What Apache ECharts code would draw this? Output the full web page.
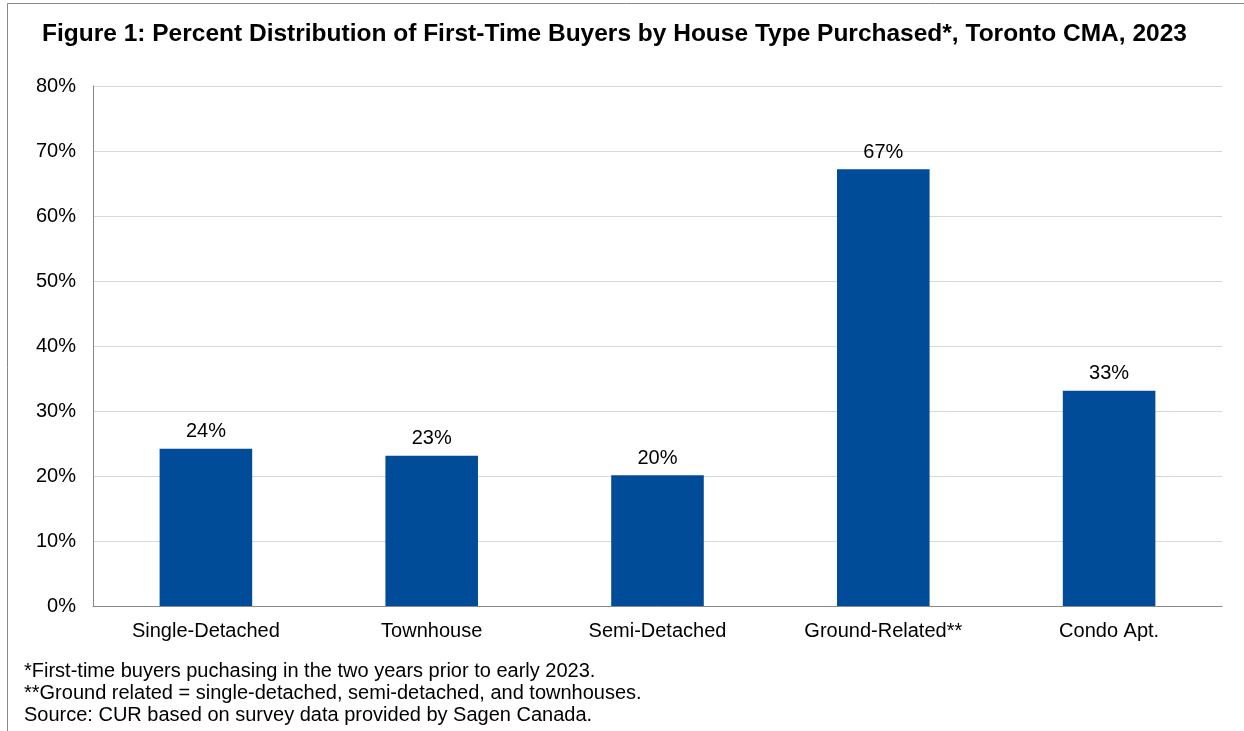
<!DOCTYPE html>
<html>
<head>
<meta charset="utf-8">
<script src="https://cdn.jsdelivr.net/npm/echarts@6/dist/echarts.min.js"></script>
<style>html,body{margin:0;padding:0;background:#fff;}#c{width:1244px;height:731px;}</style>
</head>
<body>
<div id="c"></div>
<script>
const categories = ['Single-Detached', 'Townhouse', 'Semi-Detached', 'Ground-Related**', 'Condo Apt.'];
const values = [24.2, 23.1, 20.1, 67.2, 33.1];
const titleText = 'Figure 1: Percent Distribution of First-Time Buyers by House Type Purchased*, Toronto CMA, 2023';
const notes = [
  '*First-time buyers puchasing in the two years prior to early 2023.',
  '**Ground related = single-detached, semi-detached, and townhouses.',
  'Source: CUR based on survey data provided by Sagen Canada.'
];
const yMin = 0, yMax = 80, yStep = 10;

const FONT = '"Liberation Sans", Arial, sans-serif';
const chart = echarts.init(document.getElementById('c'), null, {renderer: 'canvas'});
chart.setOption({
  animation: false,
  backgroundColor: '#ffffff',
  textStyle: {fontFamily: FONT},
  title: [{
    text: titleText,
    left: 37,
    top: 17,
    textStyle: {fontSize: 24.5, fontWeight: 'bold', color: '#000', fontFamily: FONT}
  }, {
    text: notes.join('\n'),
    left: 19,
    top: 655,
    textStyle: {fontSize: 20, fontWeight: 'normal', color: '#000', lineHeight: 22, fontFamily: FONT}
  }],
  graphic: [{
    type: 'rect',
    shape: {x: 7.5, y: 3.5, width: 1400, height: 900},
    style: {fill: 'none', stroke: '#888', lineWidth: 1},
    silent: true,
    z: -1
  }],
  grid: {left: 93, right: 22, top: 86, bottom: 125, containLabel: false},
  xAxis: {
    type: 'category',
    data: categories,
    axisLine: {lineStyle: {color: '#898989', width: 1}},
    axisTick: {show: false},
    axisLabel: {color: '#000', fontSize: 20, margin: 15}
  },
  yAxis: {
    type: 'value',
    min: yMin, max: yMax, interval: yStep,
    axisLine: {show: true, lineStyle: {color: '#898989', width: 1}},
    axisTick: {show: false},
    splitLine: {lineStyle: {color: '#d9d9d9', width: 1}},
    axisLabel: {color: '#000', fontSize: 20, margin: 17, formatter: v => v + '%'}
  },
  series: [{
    type: 'bar',
    data: values,
    barWidth: '41%',
    itemStyle: {color: '#004C99'},
    label: {
      show: true, position: 'top', distance: 7,
      color: '#000', fontSize: 20,
      formatter: p => Math.round(p.value) + '%'
    }
  }]
});
</script>
</body>
</html>
